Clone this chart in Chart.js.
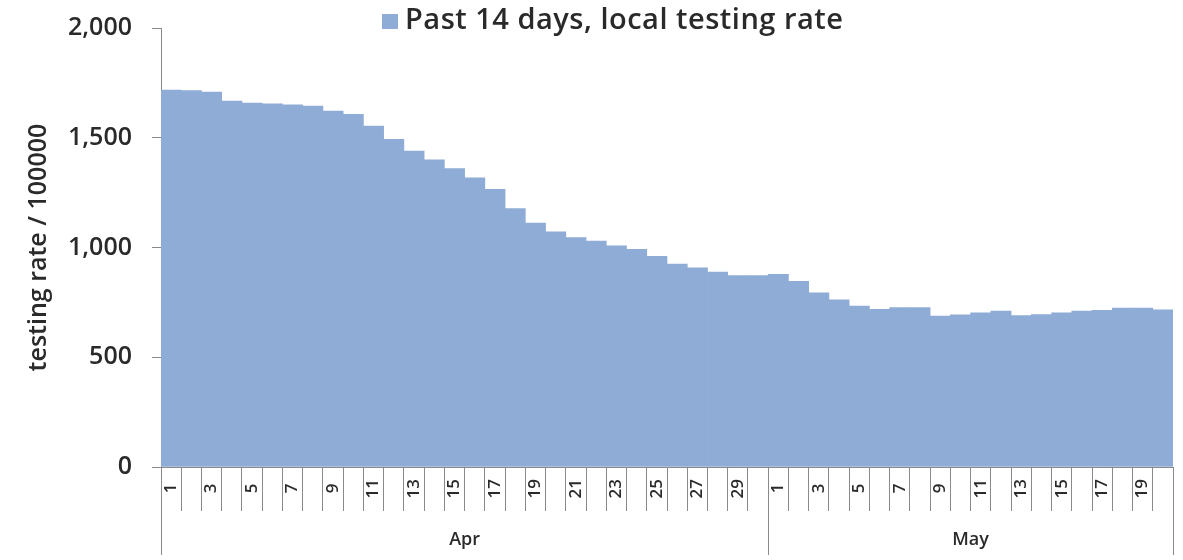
<!DOCTYPE html>
<html>
<head>
<meta charset="utf-8">
<script src="https://cdn.jsdelivr.net/npm/chart.js@4/dist/chart.umd.min.js"></script>
<style>
  html, body { margin: 0; padding: 0; background: #fff; }
  #wrap { width: 1183px; height: 560px; }
</style>
</head>
<body>
<div id="wrap"><canvas id="chartCanvas" width="1183" height="560"></canvas></div>
<script>
// ---- data ----
const aprDays = [1,2,3,4,5,6,7,8,9,10,11,12,13,14,15,16,17,18,19,20,21,22,23,24,25,26,27,28,29,30];
const mayDays = [1,2,3,4,5,6,7,8,9,10,11,12,13,14,15,16,17,18,19,20];
const aprValues = [1718,1715,1709,1668,1658,1655,1650,1645,1622,1607,1554,1493,1440,1400,1360,1318,1265,1178,1112,1072,1045,1030,1008,992,960,925,908,888,872,872];
const mayValues = [878,846,794,762,733,718,726,726,688,694,703,710,690,695,703,710,714,724,724,716];
const months = ["Apr", "May"];
const seriesName = "Past 14 days, local testing rate";
const yTicks = [0, 500, 1000, 1500, 2000];

const labels = [...aprDays, ...mayDays].map(String);
const values = [...aprValues, ...mayValues];
const groupSizes = [aprDays.length, mayDays.length];

const BAR_COLOR = "#8eacd6";
const AXIS_COLOR = "#8a8a8a";
const TEXT_COLOR = "#2a2a2a";
const FONT = "'Open Sans'";

// ===============================
// month groups + legend (drawn on top)
// ===============================
const extras = {
  id: "extras",
  afterDraw(chart) {
    const ctx = chart.ctx;
    const xs = chart.scales.x;
    const area = chart.chartArea;
    const step = xs.width / labels.length;

    ctx.save();
    ctx.strokeStyle = AXIS_COLOR;
    ctx.lineWidth = 1;
    let start = 0;
    const edges = [xs.left];
    groupSizes.forEach(n => { start += n; edges.push(xs.left + start * step); });
    edges.forEach(x => {
      const px = Math.round(x) + 0.5;
      ctx.beginPath();
      ctx.moveTo(px, area.bottom);
      ctx.lineTo(px, 555);
      ctx.stroke();
    });

    ctx.fillStyle = TEXT_COLOR;
    ctx.font = "600 18px " + FONT;
    ctx.textAlign = "center";
    ctx.textBaseline = "middle";
    months.forEach((m, i) => {
      ctx.fillText(m, (edges[i] + edges[i + 1]) / 2, 540);
    });

    // legend
    ctx.fillStyle = BAR_COLOR;
    ctx.fillRect(382, 14, 16, 15);
    ctx.fillStyle = TEXT_COLOR;
    ctx.font = "600 29px " + FONT;
    ctx.letterSpacing = "0.5px";
    ctx.textAlign = "left";
    ctx.fillText(seriesName, 405, 21);
    ctx.restore();
  }
};

new Chart(document.getElementById("chartCanvas"), {
  type: "bar",
  data: {
    labels,
    datasets: [{
      label: seriesName,
      data: values,
      backgroundColor: BAR_COLOR,
      borderWidth: 0,
      barPercentage: 1,
      categoryPercentage: 1
    }]
  },
  options: {
    responsive: false,
    animation: false,
    layout: { padding: { top: 17, right: 10, left: 0, bottom: 0 } },
    plugins: {
      legend: { display: false },
      tooltip: { enabled: false }
    },
    scales: {
      x: {
        afterFit(scale) { scale.height = 93; },
        border: { color: AXIS_COLOR },
        grid: {
          drawOnChartArea: false,
          drawTicks: true,
          tickLength: 44,
          offset: true,
          color: AXIS_COLOR
        },
        ticks: {
          autoSkip: false,
          maxRotation: 90,
          minRotation: 90,
          padding: -32,
          color: TEXT_COLOR,
          font: { family: FONT, size: 17, weight: "600" },
          // odd days only; short labels padded so they sit centred in the band
          callback: (v, i) => {
            const d = labels[i];
            if (Number(d) % 2 === 0) return "";
            return d.length === 1 ? d + " " : d;
          }
        }
      },
      y: {
        min: 0,
        max: 2000,
        afterFit(scale) { scale.width = 161; },
        afterBuildTicks(scale) { scale.ticks = yTicks.map(v => ({ value: v })); },
        border: { color: AXIS_COLOR },
        grid: {
          drawOnChartArea: false,
          drawTicks: true,
          tickLength: 9,
          color: AXIS_COLOR
        },
        ticks: {
          padding: 20,
          color: TEXT_COLOR,
          font: { family: FONT, size: 25, weight: "600", lineHeight: 0.65 },
          callback: v => v.toLocaleString("en-US")
        },
        title: {
          display: true,
          text: "testing rate / 100000",
          color: TEXT_COLOR,
          font: { family: FONT, size: 25, weight: "600" },
          padding: { top: 24, bottom: 0 }
        }
      }
    }
  },
  plugins: [extras]
});
</script>
</body>
</html>
